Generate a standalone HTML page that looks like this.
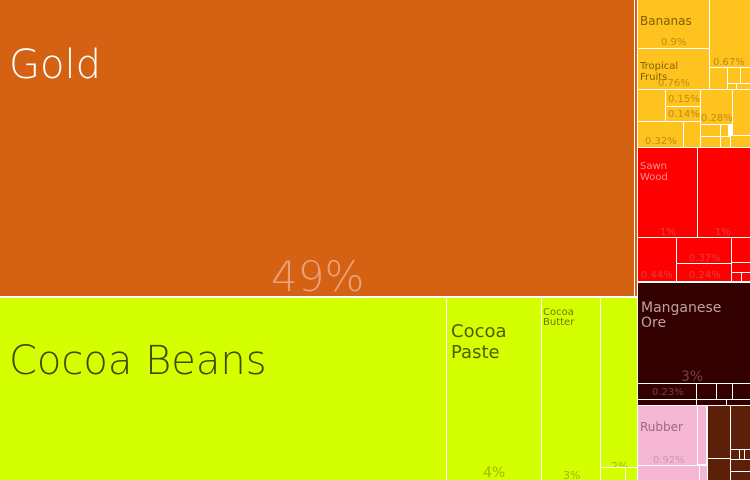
<!DOCTYPE html>
<html><head><meta charset="utf-8">
<style>
html,body{margin:0;padding:0;background:#fff;}
#tm{position:relative;width:750px;height:480px;overflow:hidden;background:#fff;font-family:"DejaVu Sans","Liberation Sans",sans-serif;}
.b{position:absolute;box-sizing:border-box;overflow:hidden;}
.t{position:absolute;white-space:nowrap;line-height:1;}
.o{background:#d56112}.g{background:#d4ff00}.y{background:#ffc31f}.r{background:#fe0000}.d{background:#330000}.p{background:#f5b6d3}.n{background:#5c1f08}
</style></head><body>
<div id="tm">
<div class="b o" style="left:0;top:0;width:634px;height:296px">
 <div class="t" style="left:9px;top:45px;font-size:40px;color:#fff;font-weight:200">Gold</div>
 <div class="t" style="left:271px;top:256px;font-size:42px;color:#eaa07a;font-weight:200">49%</div>
</div>
<div class="b o" style="left:635px;top:0;width:2px;height:296px"></div>
<div class="b g" style="left:0;top:298px;width:446px;height:182px">
 <div class="t" style="left:9px;top:43px;font-size:40px;color:#3f4a00;font-weight:200">Cocoa Beans</div>
</div>
<div class="b g" style="left:447px;top:298px;width:94px;height:182px">
 <div class="t" style="left:4px;top:23px;font-size:18px;line-height:21px;color:#4f5c00;white-space:normal">Cocoa<br>Paste</div>
 <div class="t" style="left:36px;top:168px;font-size:14px;color:#a8b400">4%</div>
</div>
<div class="b g" style="left:542px;top:298px;width:58px;height:182px">
 <div class="t" style="left:1px;top:10px;font-size:10px;line-height:10px;color:#6b7a00">Cocoa<br>Butter</div>
 <div class="t" style="left:21px;top:172px;font-size:11px;color:#a8b400">3%</div>
</div>
<div class="b g" style="left:601px;top:298px;width:36px;height:169px">
 <div class="t" style="left:10px;top:163px;font-size:11px;color:#a8b400">2%</div>
</div>
<div class="b g" style="left:601px;top:468px;width:24px;height:12px"></div>
<div class="b g" style="left:626px;top:468px;width:11px;height:12px"></div>
<div class="b y" style="left:638px;top:0;width:71px;height:48px">
 <div class="t" style="left:2px;top:15px;font-size:12px;color:#806000">Bananas</div>
 <div class="t" style="left:23px;top:38px;font-size:10px;color:#c08a10">0.9%</div>
</div>
<div class="b y" style="left:710px;top:0;width:40px;height:67px">
 <div class="t" style="left:3px;top:58px;font-size:10px;color:#c08a10">0.67%</div>
</div>
<div class="b y" style="left:638px;top:49px;width:71px;height:40px">
 <div class="t" style="left:2px;top:12px;font-size:10px;line-height:11px;color:#806000">Tropical<br>Fruits</div>
 <div class="t" style="left:20px;top:30px;font-size:10px;color:#c08a10">0.76%</div>
</div>
<div class="b y" style="left:710px;top:68px;width:17px;height:21px"></div>
<div class="b y" style="left:728px;top:68px;width:12px;height:15px"></div>
<div class="b y" style="left:741px;top:68px;width:9px;height:15px"></div>
<div class="b y" style="left:728px;top:84px;width:8px;height:5px"></div>
<div class="b y" style="left:737px;top:84px;width:13px;height:5px"></div>
<div class="b y" style="left:638px;top:90px;width:27px;height:31px"></div>
<div class="b y" style="left:666px;top:90px;width:34px;height:16px">
 <div class="t" style="left:2px;top:5px;font-size:10px;color:#c08a10">0.15%</div>
</div>
<div class="b y" style="left:666px;top:107px;width:34px;height:14px">
 <div class="t" style="left:2px;top:3px;font-size:10px;color:#c08a10">0.14%</div>
</div>
<div class="b y" style="left:701px;top:90px;width:31px;height:34px">
 <div class="t" style="left:0px;top:24px;font-size:10px;color:#c08a10">0.28%</div>
</div>
<div class="b y" style="left:733px;top:90px;width:17px;height:45px"></div>
<div class="b y" style="left:638px;top:122px;width:45px;height:25px">
 <div class="t" style="left:7px;top:15px;font-size:10px;color:#c08a10">0.32%</div>
</div>
<div class="b y" style="left:684px;top:122px;width:16px;height:25px"></div>
<div class="b y" style="left:701px;top:125px;width:19px;height:11px"></div>
<div class="b y" style="left:721px;top:125px;width:7px;height:11px"></div>
<div class="b y" style="left:701px;top:137px;width:19px;height:10px"></div>
<div class="b y" style="left:721px;top:137px;width:9px;height:10px"></div>
<div class="b y" style="left:731px;top:136px;width:19px;height:11px"></div>
<div class="b r" style="left:638px;top:148px;width:59px;height:89px">
 <div class="t" style="left:2px;top:13px;font-size:10px;line-height:11px;color:#ff9090">Sawn<br>Wood</div>
 <div class="t" style="left:22px;top:80px;font-size:10px;color:#e04040">1%</div>
</div>
<div class="b r" style="left:698px;top:148px;width:52px;height:89px">
 <div class="t" style="left:17px;top:80px;font-size:10px;color:#e04040">1%</div>
</div>
<div class="b r" style="left:638px;top:238px;width:38px;height:43px">
 <div class="t" style="left:3px;top:33px;font-size:10px;color:#e04040">0.44%</div>
</div>
<div class="b r" style="left:677px;top:238px;width:54px;height:25px">
 <div class="t" style="left:12px;top:16px;font-size:10px;color:#e04040">0.37%</div>
</div>
<div class="b r" style="left:677px;top:264px;width:54px;height:17px">
 <div class="t" style="left:12px;top:7px;font-size:10px;color:#e04040">0.24%</div>
</div>
<div class="b r" style="left:732px;top:238px;width:18px;height:24px"></div>
<div class="b r" style="left:732px;top:263px;width:18px;height:9px"></div>
<div class="b r" style="left:732px;top:273px;width:9px;height:8px"></div>
<div class="b r" style="left:742px;top:273px;width:8px;height:8px"></div>
<div class="b d" style="left:638px;top:283px;width:112px;height:100px">
 <div class="t" style="left:3px;top:18px;font-size:14px;line-height:15px;color:#c0a0a0">Manganese<br>Ore</div>
 <div class="t" style="left:43px;top:87px;font-size:14px;color:#7a4040">3%</div>
</div>
<div class="b d" style="left:638px;top:384px;width:58px;height:15px">
 <div class="t" style="left:14px;top:4px;font-size:10px;color:#7a4040">0.23%</div>
</div>
<div class="b d" style="left:697px;top:384px;width:19px;height:15px"></div>
<div class="b d" style="left:717px;top:384px;width:15px;height:15px"></div>
<div class="b d" style="left:733px;top:384px;width:17px;height:15px"></div>
<div class="b d" style="left:638px;top:400px;width:58px;height:5px"></div>
<div class="b d" style="left:697px;top:400px;width:29px;height:5px"></div>
<div class="b d" style="left:727px;top:400px;width:23px;height:5px"></div>
<div class="b p" style="left:638px;top:406px;width:59px;height:59px">
 <div class="t" style="left:2px;top:15px;font-size:12px;color:#9a6a80">Rubber</div>
 <div class="t" style="left:15px;top:50px;font-size:10px;color:#c898ae">0.92%</div>
</div>
<div class="b p" style="left:698px;top:406px;width:8px;height:58px"></div>
<div class="b p" style="left:638px;top:466px;width:61px;height:14px"></div>
<div class="b p" style="left:700px;top:466px;width:7px;height:14px"></div>
<div class="b n" style="left:708px;top:406px;width:22px;height:52px"></div>
<div class="b n" style="left:731px;top:406px;width:19px;height:43px"></div>
<div class="b n" style="left:731px;top:450px;width:8px;height:9px"></div>
<div class="b n" style="left:740px;top:450px;width:4px;height:9px"></div>
<div class="b n" style="left:745px;top:450px;width:5px;height:9px"></div>
<div class="b n" style="left:708px;top:459px;width:22px;height:21px"></div>
<div class="b n" style="left:731px;top:460px;width:19px;height:11px"></div>
<div class="b n" style="left:731px;top:472px;width:19px;height:8px"></div>
</div>
</body></html>
